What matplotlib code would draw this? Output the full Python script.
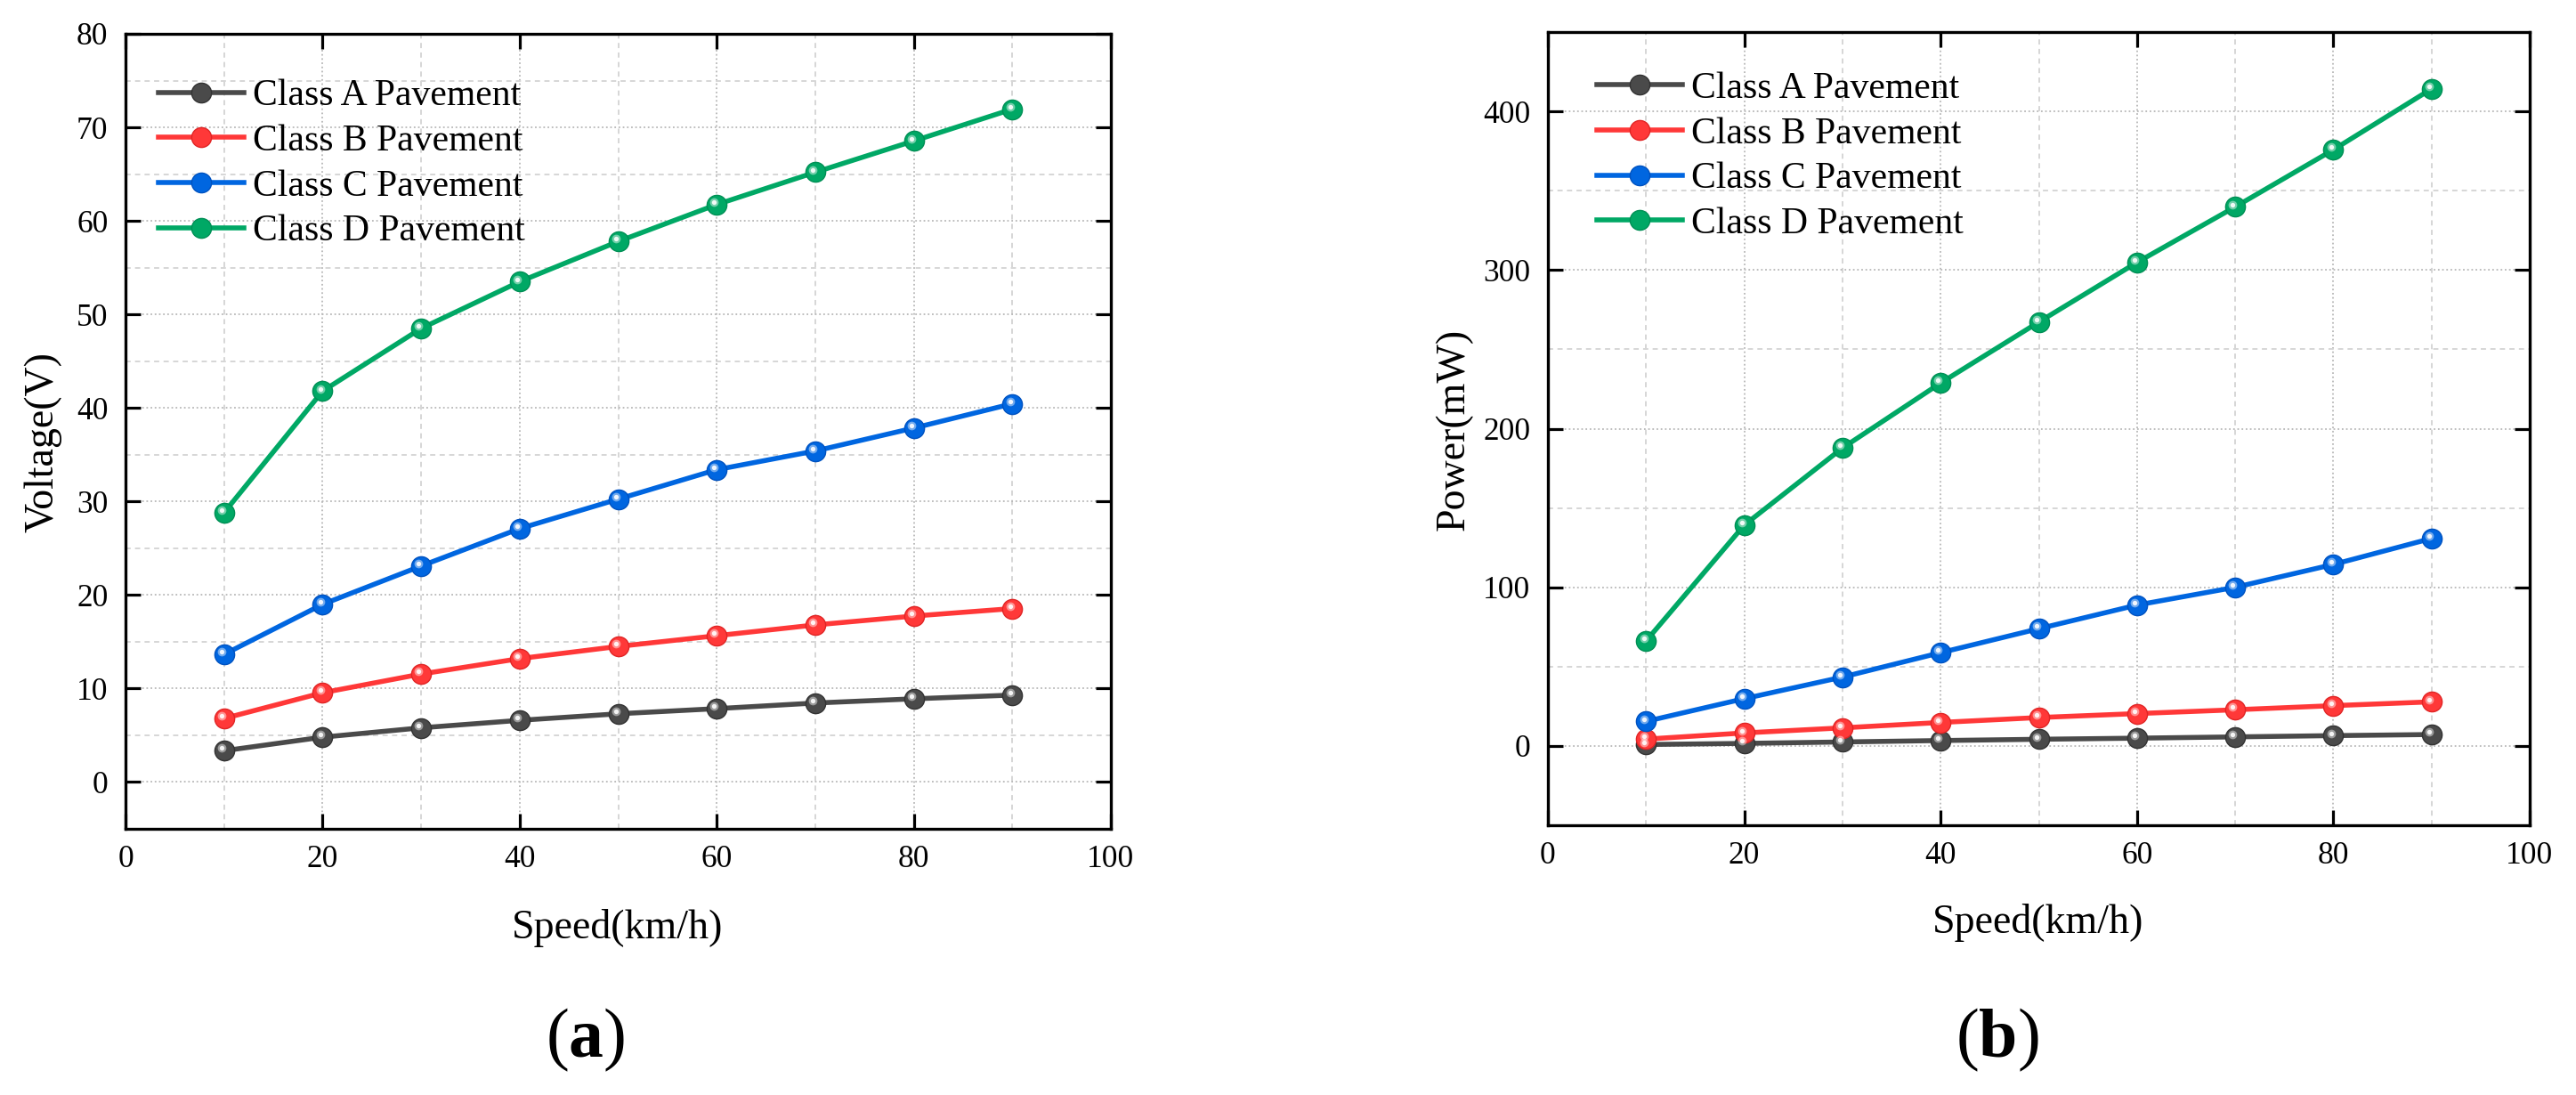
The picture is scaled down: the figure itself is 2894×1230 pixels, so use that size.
import matplotlib
matplotlib.use("Agg")
import matplotlib.pyplot as plt
from matplotlib.ticker import MultipleLocator
from matplotlib.transforms import ScaledTranslation

plt.rcParams['font.family'] = ['Liberation Serif', 'DejaVu Serif']
plt.rcParams['mathtext.fontset'] = 'custom'
plt.rcParams['mathtext.rm'] = 'Liberation Serif'
plt.rcParams['mathtext.bf'] = 'Liberation Serif:bold'

# ---------------- data ----------------
speed = [10, 20, 30, 40, 50, 60, 70, 80, 90]
labels = ["Class A Pavement", "Class B Pavement", "Class C Pavement", "Class D Pavement"]

voltage_A = [3.35, 4.8, 5.8, 6.6, 7.3, 7.85, 8.45, 8.9, 9.3]
voltage_B = [6.8, 9.55, 11.55, 13.2, 14.5, 15.65, 16.8, 17.75, 18.55]
voltage_C = [13.65, 19.0, 23.1, 27.1, 30.25, 33.4, 35.4, 37.85, 40.45]
voltage_D = [28.8, 41.8, 48.5, 53.5, 57.8, 61.75, 65.2, 68.55, 71.95]

power_A = [0.9, 1.6, 2.5, 3.4, 4.2, 4.9, 5.7, 6.5, 7.2]
power_B = [4.3, 8.2, 11.4, 14.8, 17.9, 20.4, 22.8, 25.4, 27.8]
power_C = [15.5, 29.8, 43.4, 58.8, 73.9, 88.8, 100.0, 114.4, 130.8]
power_D = [66.2, 139.2, 187.8, 228.8, 267.2, 304.8, 339.8, 375.8, 414.2]

colors = ['#4a4a4a', '#ff3838', '#0066e0', '#00a865']
edge_colors = ['#333333', '#e02525', '#0052c0', '#008f55']

W, H, DPI = 2894, 1230, 100
fig = plt.figure(figsize=(W / DPI, H / DPI), dpi=DPI)


def px_rect(l, t, r, b):
    return [l / W, 1 - b / H, (r - l) / W, (b - t) / H]


ax1 = fig.add_axes(px_rect(141, 38, 1248, 931))
ax2 = fig.add_axes(px_rect(1739, 36, 2842, 927))


def style(ax, ylim, ymaj, ymin):
    ax.set_xlim(0, 100)
    ax.set_ylim(*ylim)
    ax.xaxis.set_major_locator(MultipleLocator(20))
    ax.xaxis.set_minor_locator(MultipleLocator(10))
    ax.yaxis.set_major_locator(MultipleLocator(ymaj))
    ax.yaxis.set_minor_locator(MultipleLocator(ymin))
    ax.tick_params(which='major', direction='in', length=12, width=2.3,
                   top=True, right=True, labelsize=25.5, pad=13)
    ax.tick_params(axis='y', which='major', pad=14)
    ax.tick_params(which='minor', length=0, top=True, right=True)
    for s in ax.spines.values():
        s.set_linewidth(2.4)
        s.set_color('black')
    ax.grid(which='major', color='#b8b8b8', linestyle=(0, (1, 1.6)), linewidth=1.3)
    ax.grid(which='minor', color='#d6d6d6', linestyle=(0, (3, 2.5)), linewidth=1.4)
    ax.set_axisbelow(True)


def draw_series(ax, series, leg_anchor):
    hl_off = ScaledTranslation(-2.0 / 72, 2.0 / 72, fig.dpi_scale_trans)
    handles = []
    for ys, c, ec, lab in zip(series, colors, edge_colors, labels):
        ln, = ax.plot(speed, ys, color=c, lw=4.0, marker='o', markersize=16,
                      markerfacecolor=c, markeredgecolor=ec, markeredgewidth=1.0,
                      label=lab, zorder=3)
        ax.plot(speed, ys, linestyle='none', marker='o', markersize=7,
                markerfacecolor='white', markeredgecolor='none', alpha=0.45,
                transform=ax.transData + hl_off, zorder=4)
        ax.plot(speed, ys, linestyle='none', marker='o', markersize=3.8,
                markerfacecolor='white', markeredgecolor='none', alpha=0.9,
                transform=ax.transData + hl_off, zorder=5)
        handles.append(ln)
    ax.legend(handles=handles, loc='upper left', bbox_to_anchor=leg_anchor,
              frameon=False, fontsize=30, borderpad=0, borderaxespad=0,
              handlelength=2.3, handletextpad=0.25, labelspacing=0.29)


style(ax1, (-5, 80), 10, 5)
style(ax2, (-50, 450), 100, 50)

draw_series(ax1, [voltage_A, voltage_B, voltage_C, voltage_D], (0.0334, 0.943))
draw_series(ax2, [power_A, power_B, power_C, power_D], (0.050, 0.950))


def ftext(x, y, s, **kw):
    fig.text(x / W, 1 - y / H, s, **kw)


ftext(694, 1042, "Speed(km/h)", ha='center', va='center', fontsize=33)
ftext(2290, 1037, "Speed(km/h)", ha='center', va='center', fontsize=33)
ftext(48, 497, "Voltage(V)", ha='center', va='center', rotation=90, fontsize=33)
ftext(1633, 482, "Power(mW)", ha='center', va='center', rotation=90, fontsize=33)

ftext(658, 1168, r"($\mathbf{a}$)", ha='center', va='center', fontsize=56)
ftext(2244, 1168, r"($\mathbf{b}$)", ha='center', va='center', fontsize=56)

fig.savefig("out.png", dpi=DPI)
